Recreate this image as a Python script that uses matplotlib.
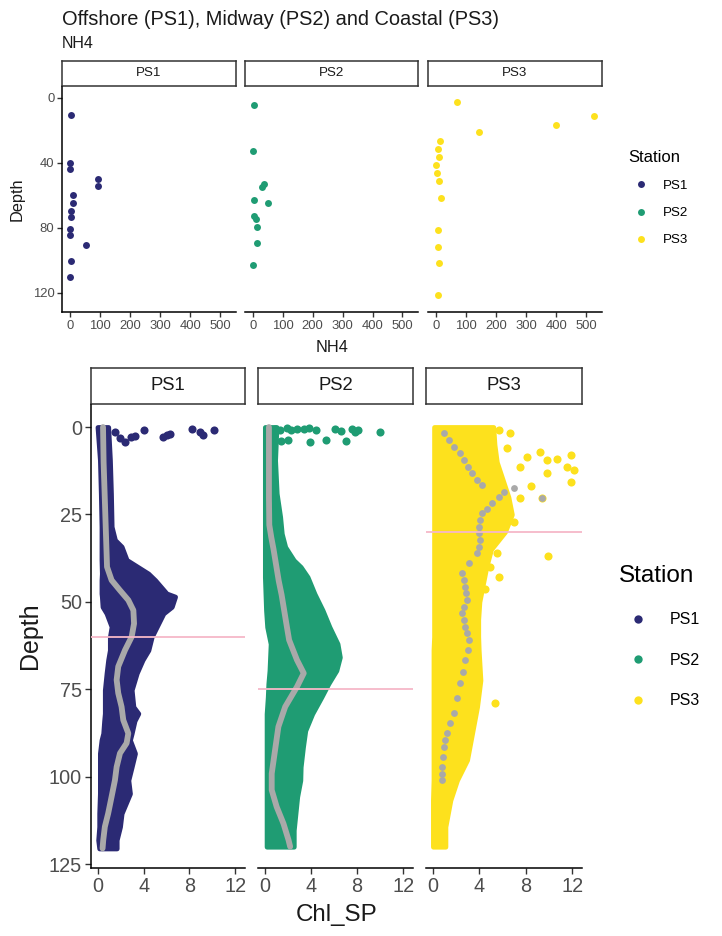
import matplotlib
matplotlib.use("Agg")
import matplotlib.pyplot as plt
from matplotlib.lines import Line2D

plt.rcParams["font.family"] = ["Liberation Sans", "DejaVu Sans"]

W, H = 722, 936
STATIONS = ["PS1", "PS2", "PS3"]
COLORS = {"PS1": "#2B2A74", "PS2": "#1F9C73", "PS3": "#FDE11D"}
MEAN_COLOR = "#A9A9A9"
PINK = "#F6B8C8"

# ---- top chart: NH4 by depth ----
ps1_nh4_depth = [10.7, 40.4, 43.9, 50.2, 54.5, 60.0, 65.0, 69.9, 73.4, 80.5, 84.2, 90.3, 100.5, 110.4]
ps1_nh4 = [4, 1, 1, 92, 92, 10, 10, 3, 3, 1, 1, 55, 3, 1]
ps2_nh4_depth = [4.6, 32.9, 53.2, 54.9, 63.0, 64.8, 72.8, 74.6, 79.5, 89.3, 103.1]
ps2_nh4 = [4, 0, 36, 32, 4, 52, 4, 12, 13, 13, 0]
ps3_nh4_depth = [2.7, 11.5, 16.6, 21.3, 26.4, 31.5, 36.7, 41.2, 46.3, 51.4, 61.8, 81.5, 91.7, 101.3, 121.4]
ps3_nh4 = [69, 527, 400, 144, 14, 6, 11, 1, 4, 10, 18, 6, 8, 10, 8]

# ---- bottom chart: Chl_SP cloud (envelope of the dense points) ----
ps1_env_depth = [0, 9.4, 19, 28.5, 32.3, 34.2, 38, 41.9, 43.8, 47.6, 48.5, 51.4, 53.3, 57.1, 60,
                 63.8, 66.6, 70.4, 75.2, 80, 81.9, 84, 87.6, 89.5, 93.3, 97.2, 101, 104.8, 110.5,
                 114.3, 118.1, 120.5]
ps1_env_lo = [-0.03, 0.18, 0.26, 0.32, 0.32, 0.32, 0.32, 0.35, 0.32, 0.32, 0.35, 0.41, 0.76, 1.2, 1.05,
              1.05, 0.9, 0.76, 0.61, 0.61, 0.61, 0.55, 0.47, 0.32, 0.18, 0.18, 0.18, 0.18, 0.12,
              0.12, 0.03, 0.12]
ps1_env_hi = [0.9, 1.05, 1.14, 1.2, 1.49, 2.07, 2.51, 4.4, 5.0, 6.0, 6.74, 6.45, 5.72, 5.14, 4.7,
              4.41, 3.9, 3.39, 2.95, 3.1, 3.53, 3.2, 2.95, 2.8, 3.24, 2.95, 2.66, 2.8, 2.07,
              1.93, 1.64, 1.64]
ps1_mean_depth = [0, 10, 20, 30, 36, 40, 43.8, 46.7, 49.5, 52.4, 56.2, 60, 63.8, 68.5, 72.3, 76.1,
                  80, 83.8, 87.6, 90.4, 93.3, 97.2, 101, 105.7, 110.5, 114.3, 118.1, 120.5]
ps1_mean = [0.45, 0.5, 0.6, 0.7, 0.76, 0.8, 1.2, 1.93, 2.66, 3.1, 3.16, 2.95, 2.37, 1.78, 1.64, 1.78,
            2.07, 2.22, 2.66, 2.51, 1.93, 1.64, 1.49, 1.2, 0.9, 0.61, 0.47, 0.41]
ps1_out_chl = [1.5, 1.9, 2.4, 2.9, 3.2, 4.0, 5.7, 6.0, 6.3, 8.2, 8.9, 9.2, 10.1]
ps1_out_depth = [1.3, 3.2, 4.2, 2.9, 2.6, 0.9, 2.9, 2.4, 2.0, 0.7, 1.3, 2.3, 0.9]

ps2_env_depth = [0, 9.5, 19, 25.7, 30.5, 34.3, 38.1, 40, 42.9, 47.7, 52.4, 57.2, 62, 65.8, 69.6,
                 73.4, 77.2, 82, 86.8, 91.5, 97.2, 101, 105.7, 110.5, 115.3, 120]
ps2_env_lo = [0.0, 0.0, 0.0, 0.0, 0.0, 0.0, 0.0, 0.0, 0.0, 0.05, 0.1, 0.2, 0.5, 0.45, 0.4,
              0.3, 0.25, 0.15, 0.15, 0.15, 0.15, 0.15, 0.15, 0.15, 0.15, 0.15]
ps2_env_hi = [1.0, 0.88, 1.02, 1.32, 1.46, 1.76, 2.5, 3.1, 3.7, 4.3, 5.0, 5.6, 6.3, 6.5, 6.2,
              5.5, 4.9, 4.1, 3.5, 3.3, 3.1, 3.07, 2.8, 2.65, 2.5, 2.5]
ps2_mean_depth = [0, 10, 20, 28, 31.5, 35, 40, 44, 48, 52, 56, 60.9, 66.6, 70.4, 74.3, 80, 85.7,
                  92.4, 99.1, 103.8, 108.6, 113.4, 118.1, 120]
ps2_mean = [0.35, 0.35, 0.35, 0.38, 0.55, 0.75, 1.0, 1.2, 1.45, 1.65, 1.85, 2.1, 2.78, 3.37, 2.78,
            1.76, 1.17, 0.88, 0.59, 0.59, 1.02, 1.61, 2.05, 2.19]
ps2_out_chl = [0.3, 0.9, 1.3, 1.9, 2.3, 2.8, 3.4, 3.8, 4.4, 6.1, 6.6, 7.6, 7.8, 8.1, 9.95,
               1.4, 2.0, 3.9, 5.3, 7.0]
ps2_out_depth = [0.5, 0.6, 0.8, 0.4, 0.9, 0.5, 0.7, 0.4, 0.9, 0.6, 1.1, 0.5, 1.4, 0.8, 1.5,
                 4.0, 3.8, 4.2, 3.6, 3.9]

ps3_env_depth = [0, 5, 10, 15, 20, 25, 30, 35, 40, 45, 50, 55, 60, 63.8, 72.4, 80, 87.6, 95.2,
                 101, 106.7, 114.3, 120]
ps3_env_lo = [0.1, 0.1, 0.1, 0.1, 0.1, 0.1, 0.1, 0.1, 0.1, 0.1, 0.1, 0.1, 0.1, 0.05, 0.05, 0.05,
              0.05, 0.05, 0.05, 0.0, 0.0, 0.0]
ps3_env_hi = [5.2, 5.3, 5.5, 6.0, 6.5, 6.8, 6.2, 5.0, 4.6, 4.3, 4.0, 3.9, 3.9, 3.94, 4.09, 3.8,
              3.37, 2.94, 2.07, 1.5, 1.07, 1.07]
ps3_mean_depth = [1.8, 3.7, 5.6, 7.5, 9.4, 11.3, 13.2, 15.2, 16.6, 17.5, 18.5, 19.9, 21.8, 23.3,
                  24.7, 26.6, 28.5, 30.4, 32.3, 34.2, 36.1, 39.0, 41.8, 43.8, 45.7, 47.6, 49.5,
                  51.4, 53.3, 55.2, 57.1, 59.0, 60.9, 63.8, 66.6, 70.0, 73.3, 77.6, 81.9, 84.7,
                  87.6, 89.5, 91.4, 94.3, 97.2, 99.1, 101]
ps3_mean = [0.92, 1.35, 1.78, 2.36, 2.65, 3.0, 3.37, 3.8, 4.23, 6.97, 6.1, 5.67, 5.1, 4.66,
            4.23, 4.05, 3.94, 4.0, 4.09, 3.95, 3.8, 3.08, 2.5, 2.65, 2.79, 2.85, 2.94,
            2.7, 2.5, 2.65, 2.79, 2.95, 3.1, 3.0, 2.79, 2.55, 2.36, 2.05, 1.79, 1.5,
            1.21, 1.05, 0.92, 0.85, 0.78, 0.78, 0.78]
ps3_out_chl = [5.67, 6.68, 6.39, 8.12, 9.27, 9.84, 10.7, 11.86, 11.57, 12.15, 11.86, 9.84, 7.54,
               8.41, 7.54, 6.97, 9.9, 5.67, 4.95, 4.52, 5.53, 9.41, 5.38]
ps3_out_depth = [0.9, 1.8, 6.1, 8.5, 7.1, 9.4, 9.0, 8.1, 11.3, 12.3, 15.6, 13.2, 11.3,
                 17.0, 20.4, 27.1, 36.8, 42.8, 39.9, 46.2, 36.1, 20.4, 79]
ps3_mean_out_chl = [9.41]
ps3_mean_out_depth = [20.4]

MLD = {"PS1": 60, "PS2": 75, "PS3": 30}

nh4 = {"PS1": (ps1_nh4, ps1_nh4_depth), "PS2": (ps2_nh4, ps2_nh4_depth), "PS3": (ps3_nh4, ps3_nh4_depth)}
chl = {
    "PS1": dict(env=(ps1_env_depth, ps1_env_lo, ps1_env_hi), mean=(ps1_mean, ps1_mean_depth),
                out=(ps1_out_chl, ps1_out_depth)),
    "PS2": dict(env=(ps2_env_depth, ps2_env_lo, ps2_env_hi), mean=(ps2_mean, ps2_mean_depth),
                out=(ps2_out_chl, ps2_out_depth)),
    "PS3": dict(env=(ps3_env_depth, ps3_env_lo, ps3_env_hi), mean=(ps3_mean, ps3_mean_depth),
                out=(ps3_out_chl, ps3_out_depth)),
}

fig = plt.figure(figsize=(W / 100, H / 100), dpi=100)


def px_axes(x0, y0, x1, y1):
    return fig.add_axes([x0 / W, 1 - y1 / H, (x1 - x0) / W, (y1 - y0) / H])


def fig_text(x, y, s, **kw):
    fig.text(x / W, 1 - y / H, s, **kw)


def strip(x0, y0, x1, y1, label, size):
    sa = px_axes(x0, y0, x1, y1)
    sa.set_xticks([])
    sa.set_yticks([])
    for sp in sa.spines.values():
        sp.set_linewidth(1.1)
        sp.set_color("#333333")
    sa.text(0.5, 0.5, label, ha="center", va="center", fontsize=size, color="#1A1A1A",
            transform=sa.transAxes)


def style_panel(ax, first, tick_size, tick_len):
    for sp in ["top", "right"]:
        ax.spines[sp].set_visible(False)
    ax.spines["bottom"].set_linewidth(1.1)
    ax.spines["left"].set_linewidth(1.1)
    ax.tick_params(labelsize=tick_size, labelcolor="#4D4D4D", color="#333333",
                   length=tick_len, width=1.0, pad=2)
    if not first:
        ax.spines["left"].set_visible(False)
        ax.tick_params(axis="y", left=False, labelleft=False)


# ---- top chart ----
fig_text(62, 25, "Offshore (PS1), Midway (PS2) and Coastal (PS3)", fontsize=14.4,
         color="#1A1A1A", va="baseline")
fig_text(62, 48, "NH4", fontsize=11.5, color="#1A1A1A", va="baseline")

top_x = [(62, 236), (245, 418), (428, 602)]
for i, st in enumerate(STATIONS):
    x0, x1 = top_x[i]
    strip(x0, 61, x1, 86, st, 9.6)
    ax = px_axes(x0, 87, x1, 312)
    vals, dep = nh4[st]
    ax.scatter(vals, dep, s=25, color=COLORS[st], linewidths=0, zorder=3)
    ax.set_xlim(-26, 552)
    ax.set_ylim(131.7, -6.5)
    ax.set_xticks([0, 100, 200, 300, 400, 500])
    ax.set_yticks([0, 40, 80, 120])
    style_panel(ax, i == 0, 9.4, 3.5)

fig_text(332, 347, "NH4", fontsize=11.8, ha="center", va="center", color="#1A1A1A")
fig_text(17, 199.5, "Depth", fontsize=11.8, ha="center", va="center", rotation=90, color="#1A1A1A")

# ---- bottom chart ----
bot_x = [(91, 245), (258, 413), (426, 582)]
for i, st in enumerate(STATIONS):
    x0, x1 = bot_x[i]
    strip(x0, 368, x1, 404, st, 13.3)
    ax = px_axes(x0, 405, x1, 868)
    d = chl[st]
    dep, lo, hi = d["env"]
    ax.fill_betweenx(dep, lo, hi, color=COLORS[st], linewidth=3.5, joinstyle="round", zorder=2)
    ox, oy = d["out"]
    ax.scatter(ox, oy, s=34, color=COLORS[st], linewidths=0, zorder=3)
    mx, my = d["mean"]
    if st == "PS3":
        ax.scatter(mx, my, s=24, color=MEAN_COLOR, linewidths=0, zorder=4)
        ax.scatter(ps3_mean_out_chl, ps3_mean_out_depth, s=24, color=MEAN_COLOR, linewidths=0, zorder=4)
    else:
        ax.plot(mx, my, color=MEAN_COLOR, lw=4.2, solid_capstyle="round",
                solid_joinstyle="round", zorder=4)
    ax.axhline(MLD[st], color=PINK, lw=1.3, zorder=5)
    ax.set_xlim(-0.6, 12.85)
    ax.set_ylim(126.1, -6.3)
    ax.set_xticks([0, 4, 8, 12])
    ax.set_yticks([0, 25, 50, 75, 100, 125])
    style_panel(ax, i == 0, 14.3, 4.5)

fig_text(336.5, 915, "Chl_SP", fontsize=17.4, ha="center", va="center", color="#1A1A1A")
fig_text(30, 636, "Depth", fontsize=18, ha="center", va="center", rotation=90, color="#1A1A1A")


# ---- legends ----
def add_legend(x, y, title_size, label_size, ms, hlen, hpad, spacing):
    handles = [Line2D([], [], marker="o", ls="", color=COLORS[s], markersize=ms, markeredgewidth=0)
               for s in STATIONS]
    leg = fig.legend(handles, STATIONS, title="Station", loc="upper left",
                     bbox_to_anchor=(x / W, 1 - y / H), frameon=False, fontsize=label_size,
                     title_fontsize=title_size, borderpad=0, borderaxespad=0,
                     handlelength=hlen, handletextpad=hpad, labelspacing=spacing)
    leg._legend_box.align = "left"
    return leg


add_legend(628, 150, 12, 9.6, 5.0, 1.95, 0.68, 1.11)
add_legend(619, 565, 17.5, 11.5, 6.0, 2.4, 0.8, 1.59)

fig.savefig("out.png", dpi=100)
